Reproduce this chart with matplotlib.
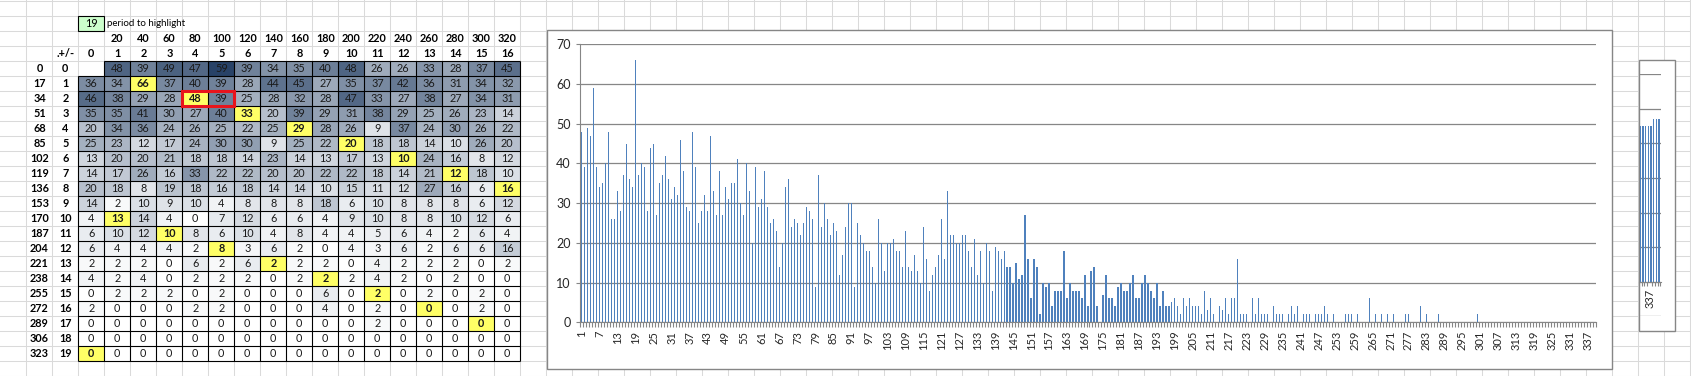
import numpy as np
import matplotlib.pyplot as plt
from matplotlib.colors import LinearSegmentedColormap
from matplotlib.patches import Rectangle

plt.rcParams['font.family'] = ['Lato', 'DejaVu Sans']

# ---- data -------------------------------------------------------------
period = 19
row_offsets = [0, 17, 34, 51, 68, 85, 102, 119, 136, 153, 170, 187, 204, 221,
               238, 255, 272, 289, 306, 323]
row_index = list(range(20))
col_index = list(range(17))
col_headers = [20, 40, 60, 80, 100, 120, 140, 160, 180, 200, 220, 240, 260,
               280, 300, 320]

# counts per index (row = offset/17, col = remainder); first cell is empty
counts = [
    [None, 48, 39, 49, 47, 59, 39, 34, 35, 40, 48, 26, 26, 33, 28, 37, 45],
    [36, 34, 66, 37, 40, 39, 28, 44, 45, 27, 35, 37, 42, 36, 31, 34, 32],
    [46, 38, 29, 28, 48, 39, 25, 28, 32, 28, 47, 33, 27, 38, 27, 34, 31],
    [35, 35, 41, 30, 27, 40, 33, 20, 39, 29, 31, 38, 29, 25, 26, 23, 14],
    [20, 34, 36, 24, 26, 25, 22, 25, 29, 28, 26, 9, 37, 24, 30, 26, 22],
    [25, 23, 12, 17, 24, 30, 30, 9, 25, 22, 20, 18, 18, 14, 10, 26, 20],
    [13, 20, 20, 21, 18, 18, 14, 23, 14, 13, 17, 13, 10, 24, 16, 8, 12],
    [14, 17, 26, 16, 33, 22, 22, 20, 20, 22, 22, 18, 14, 21, 12, 18, 10],
    [20, 18, 8, 19, 18, 16, 18, 14, 14, 10, 15, 11, 12, 27, 16, 6, 16],
    [14, 2, 10, 9, 10, 4, 8, 8, 8, 18, 6, 10, 8, 8, 8, 6, 12],
    [4, 13, 14, 4, 0, 7, 12, 6, 6, 4, 9, 10, 8, 8, 10, 12, 6],
    [6, 10, 12, 10, 8, 6, 10, 4, 8, 4, 4, 5, 6, 4, 2, 6, 4],
    [6, 4, 4, 4, 2, 8, 3, 6, 2, 0, 4, 3, 6, 2, 6, 6, 16],
    [2, 2, 2, 0, 6, 2, 6, 2, 2, 2, 0, 4, 2, 2, 2, 0, 2],
    [4, 2, 4, 0, 2, 2, 2, 0, 2, 2, 2, 4, 2, 0, 2, 0, 0],
    [0, 2, 2, 2, 0, 2, 0, 0, 0, 6, 0, 2, 0, 2, 0, 2, 0],
    [2, 0, 0, 0, 2, 2, 0, 0, 0, 4, 0, 2, 0, 0, 0, 2, 0],
    [0, 0, 0, 0, 0, 0, 0, 0, 0, 0, 0, 2, 0, 0, 0, 0, 0],
    [0, 0, 0, 0, 0, 0, 0, 0, 0, 0, 0, 0, 0, 0, 0, 0, 0],
    [0, 0, 0, 0, 0, 0, 0, 0, 0, 0, 0, 0, 0, 0, 0, 0, 0],
]

# little side chart
side_vals = [45, 45, 45, 45, 45, 47, 47, 47]
side_label = '337'

# ---- layout (pixels) --------------------------------------------------
W, H = 1691, 376
fig = plt.figure(figsize=(W / 100, H / 100), dpi=100)
sheet = fig.add_axes([0, 0, 1, 1])
sheet.set_xlim(0, W)
sheet.set_ylim(H, 0)
sheet.axis('off')

col_w, row_h = 26, 15
x0, y0 = 78.3, 60.7          # first data cell
fs = 7.8

# spreadsheet gridlines
for gx in np.arange(26.3, W, col_w):
    sheet.axvline(gx, color='#dadada', lw=0.75, zorder=0)
for gy in np.arange(0.7, H, row_h):
    sheet.axhline(gy, color='#dadada', lw=0.75, zorder=0)

vals = np.array([[np.nan if v is None else v for v in r] for r in counts], float)
idx = np.array(row_offsets)[:, None] + np.array(col_index)[None, :]
hl = (idx % period == 0) & (idx > 0)

xe = x0 + col_w * np.arange(len(col_index) + 1)
ye = y0 + row_h * np.arange(len(row_index) + 1)
cmap = LinearSegmentedColormap.from_list('xl', ['#ffffff', '#0e2c55'])
shown = np.ma.masked_where(np.isnan(vals) | hl, vals)
sheet.pcolormesh(xe, ye, shown, cmap=cmap, vmin=0, vmax=66,
                 edgecolors='none', zorder=1)
for r, c in zip(*np.nonzero(hl)):
    sheet.add_patch(Rectangle((xe[c], ye[r]), col_w, row_h,
                              facecolor='#ffff66', edgecolor='none', zorder=1))

# cell borders (top-left cell has none)
bk = dict(color='black', lw=0.8, zorder=2)
sheet.hlines(ye[0], xe[1], xe[-1], **bk)
sheet.hlines(ye[1:], xe[0], xe[-1], **bk)
sheet.vlines(xe[0], ye[1], ye[-1], **bk)
sheet.vlines(xe[1:], ye[0], ye[-1], **bk)

for r in range(vals.shape[0]):
    for c in range(vals.shape[1]):
        if np.isnan(vals[r, c]):
            continue
        sheet.text(x0 + col_w * (c + 0.5), y0 + row_h * (r + 0.55),
                   str(int(vals[r, c])), ha='center', va='center', fontsize=fs,
                   color='#1a1a1a', weight='bold' if hl[r, c] else 'normal',
                   zorder=3)

# headers
for r, (off, ri) in enumerate(zip(row_offsets, row_index)):
    yc = y0 + row_h * (r + 0.55)
    sheet.text(39.5, yc, str(off), ha='center', va='center', fontsize=fs,
               weight='bold', zorder=3)
    sheet.text(65.3, yc, str(ri), ha='center', va='center', fontsize=fs,
               weight='bold', zorder=3)
sheet.text(65.3, y0 - row_h * 0.45, '.+/-', ha='center', va='center',
           fontsize=fs, weight='bold', zorder=3)
for c in col_index:
    sheet.text(x0 + col_w * (c + 0.5), y0 - row_h * 0.45, str(c), ha='center',
               va='center', fontsize=fs, weight='bold', zorder=3)
for c, hv in enumerate(col_headers, start=1):
    sheet.text(x0 + col_w * (c + 0.5), y0 - row_h * 1.45, str(hv), ha='center',
               va='center', fontsize=fs, weight='bold', zorder=3)

# period cell
sheet.add_patch(Rectangle((x0, y0 - 3 * row_h), col_w, row_h, facecolor='#ccffcc',
                          edgecolor='black', lw=0.8, zorder=2))
sheet.text(x0 + col_w / 2, y0 - 2.45 * row_h, str(period), ha='center',
           va='center', fontsize=fs, zorder=3)
sheet.text(x0 + col_w + 3, y0 - 2.45 * row_h, 'period to highlight', ha='left',
           va='center', fontsize=7, zorder=3)

# red box
sheet.add_patch(Rectangle((x0 + 4 * col_w, y0 + 2 * row_h), 2 * col_w, row_h,
                          fill=False, edgecolor='#e8141c', lw=2.2, zorder=4))

# chart frames
sheet.add_patch(Rectangle((546.7, 30.3), 1065.6, 339, facecolor='white',
                          edgecolor='#868686', lw=1, zorder=2))
sheet.add_patch(Rectangle((1638.7, 60.3), 36.6, 271, facecolor='white',
                          edgecolor='#868686', lw=1, zorder=2))


def frac(left, right, top, bottom):
    return [left / W, 1 - bottom / H, (right - left) / W, (bottom - top) / H]


# ---- main bar chart ---------------------------------------------------
bars = vals.flatten()[1:]
n = len(bars)
ax = fig.add_axes(frac(580.3, 1595.7, 44.3, 322.3))
ax.set_facecolor('none')
ax.bar(np.arange(1, n + 1), bars, width=0.42, color='#4f81bd', zorder=2)
ax.set_xlim(0.5, n + 0.5)
ax.set_ylim(0, 70)
ax.set_yticks(range(0, 71, 10))
ax.yaxis.grid(True, color='#868686', lw=0.9)
ax.set_axisbelow(True)
for s in ['top', 'right']:
    ax.spines[s].set_visible(False)
for s in ['left', 'bottom']:
    ax.spines[s].set_color('#868686')
ax.set_xticks(np.arange(1, n + 1, 6))
ax.set_xticks(np.arange(0.5, n + 1), minor=True)
ax.tick_params(axis='x', which='major', length=0, pad=6, labelsize=8,
               labelrotation=90, labelcolor='#262626')
ax.tick_params(axis='x', which='minor', length=3.5, color='#868686', width=0.8)
ax.tick_params(axis='y', length=3, color='#868686', labelsize=9,
               labelcolor='#262626', pad=4)

# ---- side chart -------------------------------------------------------
ax2 = fig.add_axes(frac(1638.7, 1660.7, 74.3, 316.3))
ax2.set_facecolor('none')
ax2.bar(np.arange(len(side_vals)), side_vals, width=0.45, color='#4f81bd',
        zorder=2)
ax2.set_xlim(-0.6, len(side_vals) - 0.4)
ax2.set_ylim(-10, 60)
ax2.set_yticks(range(-10, 61, 10))
ax2.yaxis.grid(True, color='#868686', lw=0.9)
ax2.tick_params(axis='y', length=0, labelleft=False)
for s in ['top', 'right', 'left']:
    ax2.spines[s].set_visible(False)
ax2.spines['bottom'].set_position(('data', 0))
ax2.spines['bottom'].set_color('#868686')
ax2.set_xticks([(len(side_vals) - 1) / 2])
ax2.set_xticklabels([side_label])
ax2.set_xticks(np.arange(-0.5, len(side_vals)), minor=True)
ax2.tick_params(axis='x', which='major', length=0, pad=5, labelsize=8,
                labelrotation=90, labelcolor='#262626')
ax2.tick_params(axis='x', which='minor', length=3, color='#868686', width=0.8)

fig.savefig('out.png', dpi=100)
